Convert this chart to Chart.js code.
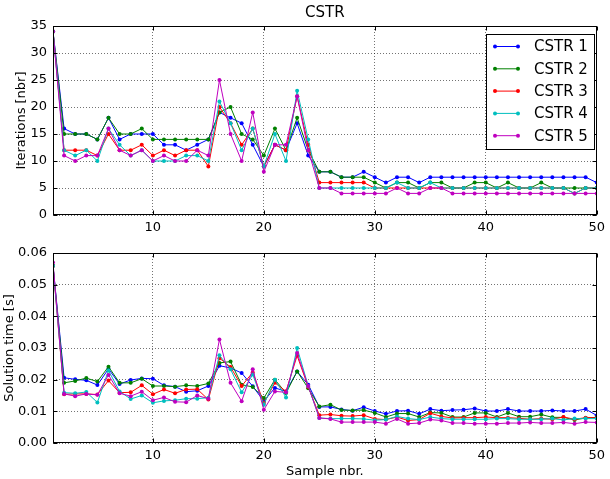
<!DOCTYPE html>
<html>
<head>
<meta charset="utf-8">
<script src="https://cdn.jsdelivr.net/npm/chart.js@4.4.1/dist/chart.umd.min.js"></script>
<style>
  html, body { margin: 0; padding: 0; background: #fff; }
  #wrap { position: relative; width: 610px; height: 479px; }
  canvas { position: absolute; left: 0; }
  #iterChart { top: 0; }
  #timeChart { top: 238px; }
</style>
</head>
<body>
<div id="wrap">
  <canvas id="iterChart" width="610" height="238"></canvas>
  <canvas id="timeChart" width="610" height="241"></canvas>
</div>
<script>
// sample numbers on the x axis
const samples = [1, 2, 3, 4, 5, 6, 7, 8, 9, 10, 11, 12, 13, 14, 15, 16, 17, 18, 19, 20,
  21, 22, 23, 24, 25, 26, 27, 28, 29, 30, 31, 32, 33, 34, 35, 36, 37, 38, 39, 40,
  41, 42, 43, 44, 45, 46, 47, 48, 49, 50];
const seriesNames = ['CSTR 1', 'CSTR 2', 'CSTR 3', 'CSTR 4', 'CSTR 5'];
const xTicks = [10, 20, 30, 40, 50];

// iterations per sample
const iter1 = [34, 16, 15, 15, 14, 18, 14, 15, 15, 15, 13, 13, 12, 13, 14, 19, 18, 17, 13, 9,
  13, 12, 17, 11, 8, 8, 7, 7, 8, 7, 6, 7, 7, 6, 7, 7, 7, 7, 7, 7, 7, 7, 7, 7, 7, 7, 7, 7, 7, 6];
const iter2 = [34, 15, 15, 15, 14, 18, 15, 15, 16, 14, 14, 14, 14, 14, 14, 19, 20, 15, 14, 11,
  16, 12, 18, 12, 8, 8, 7, 7, 7, 6, 5, 6, 6, 5, 6, 6, 5, 5, 6, 6, 5, 6, 5, 5, 6, 5, 5, 5, 5, 5];
const iter3 = [34, 12, 12, 12, 11, 15, 12, 12, 13, 11, 12, 11, 12, 12, 9, 20, 17, 13, 16, 9,
  13, 12, 22, 13, 6, 6, 6, 6, 6, 5, 5, 5, 5, 5, 5, 5, 5, 5, 5, 5, 5, 5, 5, 5, 5, 5, 5, 4, 5, 5];
const iter4 = [34, 12, 11, 12, 10, 16, 13, 11, 12, 10, 10, 10, 11, 11, 10, 21, 17, 12, 16, 9,
  15, 10, 23, 14, 5, 5, 5, 5, 5, 5, 5, 6, 5, 5, 6, 5, 5, 5, 5, 5, 5, 5, 5, 5, 5, 5, 5, 4, 5, 5];
const iter5 = [34, 11, 10, 11, 11, 16, 12, 11, 12, 10, 11, 10, 10, 12, 11, 25, 15, 10, 19, 8,
  13, 13, 22, 12, 5, 5, 4, 4, 4, 4, 4, 5, 4, 4, 5, 5, 4, 4, 4, 4, 4, 4, 4, 4, 4, 4, 4, 4, 4, 4];

// solution time per sample [s]
const time1 = [0.056, 0.0206, 0.0201, 0.0198, 0.0183, 0.0234, 0.0186, 0.0199, 0.0204, 0.0203,
  0.0182, 0.0178, 0.0162, 0.0165, 0.0180, 0.0244, 0.0237, 0.0221, 0.0179, 0.0132,
  0.0174, 0.0163, 0.0226, 0.0184, 0.0114, 0.0114, 0.0106, 0.0102, 0.0113, 0.0101,
  0.0092, 0.0101, 0.0102, 0.0092, 0.0107, 0.0102, 0.0104, 0.0105, 0.0109, 0.0101,
  0.0101, 0.0107, 0.0101, 0.0101, 0.0101, 0.0103, 0.0101, 0.0101, 0.0107, 0.0087];
const time2 = [0.056, 0.0190, 0.0196, 0.0205, 0.0194, 0.0241, 0.0190, 0.0190, 0.0203, 0.0180,
  0.0180, 0.0178, 0.0182, 0.0180, 0.0188, 0.0253, 0.0257, 0.0184, 0.0177, 0.0142,
  0.0200, 0.0158, 0.0226, 0.0173, 0.0115, 0.0121, 0.0104, 0.0103, 0.0104, 0.0095,
  0.0082, 0.0093, 0.0093, 0.0082, 0.0096, 0.0095, 0.0082, 0.0082, 0.0095, 0.0095,
  0.0082, 0.0095, 0.0083, 0.0083, 0.0090, 0.0081, 0.0081, 0.0073, 0.0079, 0.0081];
const time3 = [0.056, 0.0154, 0.0155, 0.0155, 0.0153, 0.0197, 0.0159, 0.0160, 0.0182, 0.0154,
  0.0169, 0.0157, 0.0169, 0.0170, 0.0137, 0.0268, 0.0240, 0.0180, 0.0223, 0.0126,
  0.0190, 0.0163, 0.0276, 0.0177, 0.0088, 0.0090, 0.0086, 0.0085, 0.0088, 0.0076,
  0.0074, 0.0082, 0.0071, 0.0074, 0.0094, 0.0084, 0.0079, 0.0080, 0.0080, 0.0082,
  0.0080, 0.0080, 0.0078, 0.0075, 0.0077, 0.0075, 0.0082, 0.0075, 0.0080, 0.0080];
const time4 = [0.056, 0.0159, 0.0157, 0.0161, 0.0128, 0.0229, 0.0163, 0.0139, 0.0150, 0.0127,
  0.0133, 0.0135, 0.0140, 0.0140, 0.0143, 0.0277, 0.0233, 0.0160, 0.0216, 0.0121,
  0.0200, 0.0144, 0.0300, 0.0180, 0.0079, 0.0077, 0.0077, 0.0077, 0.0076, 0.0072,
  0.0074, 0.0084, 0.0077, 0.0074, 0.0082, 0.0077, 0.0075, 0.0075, 0.0075, 0.0075,
  0.0077, 0.0077, 0.0075, 0.0075, 0.0075, 0.0077, 0.0073, 0.0077, 0.0077, 0.0077];
const time5 = [0.057, 0.0155, 0.0148, 0.0155, 0.0152, 0.0215, 0.0157, 0.0148, 0.0162, 0.0135,
  0.0144, 0.0130, 0.0129, 0.0150, 0.0140, 0.0327, 0.0190, 0.0132, 0.0233, 0.0105,
  0.0163, 0.0160, 0.0284, 0.0180, 0.0079, 0.0076, 0.0066, 0.0066, 0.0066, 0.0066,
  0.0061, 0.0076, 0.0061, 0.0063, 0.0074, 0.0071, 0.0063, 0.0063, 0.0061, 0.0061,
  0.0061, 0.0063, 0.0063, 0.0065, 0.0063, 0.0063, 0.0065, 0.0061, 0.0066, 0.0065];

const colors = ['#0000ff', '#008000', '#ff0000', '#00bfbf', '#bf00bf'];

Chart.defaults.font.family = "'DejaVu Sans', sans-serif";
Chart.defaults.font.size = 13;
Chart.defaults.color = '#000';

function makeDatasets(series) {
  return series.map((d, i) => ({
    label: seriesNames[i],
    data: d,
    borderColor: colors[i],
    backgroundColor: colors[i],
    borderWidth: 1,
    pointRadius: 2,
    pointBorderWidth: 0,
    pointHoverRadius: 2,
    tension: 0,
    order: series.length - i
  }));
}

// box round the plot and inward tick marks, like matplotlib
const framePlugin = {
  id: 'frame',
  afterDraw(chart) {
    const { ctx, chartArea: a, scales } = chart;
    const l = Math.round(a.left) + 0.5, r = Math.round(a.right) - 0.5;
    const t = Math.round(a.top) + 0.5, b = Math.round(a.bottom) - 0.5;
    ctx.save();
    ctx.strokeStyle = '#000';
    ctx.lineWidth = 1;
    ctx.beginPath();
    scales.x.ticks.forEach(tk => {
      const px = Math.round(scales.x.getPixelForValue(tk.value)) + 0.5;
      ctx.moveTo(px, b); ctx.lineTo(px, b - 4);
      ctx.moveTo(px, t); ctx.lineTo(px, t + 4);
    });
    scales.y.ticks.forEach(tk => {
      const py = Math.round(scales.y.getPixelForValue(tk.value)) + 0.5;
      ctx.moveTo(l, py); ctx.lineTo(l + 4, py);
      ctx.moveTo(r, py); ctx.lineTo(r - 4, py);
    });
    ctx.stroke();
    ctx.strokeRect(l, t, r - l, b - t);
    ctx.restore();
  }
};

// title and legend box for the upper plot
const legendPlugin = {
  id: 'boxLegend',
  afterDraw(chart) {
    const { ctx, chartArea: a } = chart;
    ctx.save();
    ctx.fillStyle = '#000';
    ctx.font = "15px 'DejaVu Sans'";
    ctx.textAlign = 'center';
    ctx.textBaseline = 'middle';
    ctx.fillText('CSTR', (a.left + a.right) / 2, 13);

    const bx = 486.5, by = 34.5, bw = 108, bh = 115;
    ctx.fillStyle = '#fff';
    ctx.fillRect(bx, by, bw, bh);
    ctx.strokeStyle = '#000';
    ctx.lineWidth = 1;
    ctx.strokeRect(bx, by, bw, bh);
    ctx.textAlign = 'left';
    chart.data.datasets.forEach((ds, i) => {
      const y = 46.5 + i * 22.3;
      ctx.strokeStyle = ds.borderColor;
      ctx.fillStyle = ds.borderColor;
      ctx.beginPath();
      ctx.moveTo(495, y); ctx.lineTo(518, y);
      ctx.stroke();
      [495, 518].forEach(px => {
        ctx.beginPath();
        ctx.arc(px, y, 2, 0, Math.PI * 2);
        ctx.fill();
      });
      ctx.fillStyle = '#000';
      ctx.fillText(ds.label, 534, y + 1);
    });
    ctx.restore();
  }
};

function makeOptions(cfg) {
  return {
    responsive: false,
    animation: false,
    layout: { padding: { top: cfg.padTop, right: 8, left: 0, bottom: 0 } },
    plugins: { legend: { display: false }, tooltip: { enabled: false }, title: { display: false } },
    scales: {
      x: {
        type: 'linear', min: 1, max: 50,
        afterBuildTicks: s => { s.ticks = xTicks.map(v => ({ value: v })); },
        afterFit: s => { s.height = cfg.xHeight; },
        ticks: { padding: 5, maxRotation: 0, callback: v => String(v) },
        grid: { color: 'rgba(0,0,0,0.55)', lineWidth: 1, drawTicks: false },
        border: { display: false, dash: [1, 2] },
        title: cfg.xTitle ? { display: true, text: cfg.xTitle, font: { size: 13 }, padding: { top: 0, bottom: 0 } } : { display: false }
      },
      y: {
        min: 0, max: cfg.yMax,
        afterFit: s => { s.width = 53; },
        afterBuildTicks: s => { s.ticks = cfg.yTicks.map(v => ({ value: v })); },
        ticks: { padding: 6, callback: cfg.yFormat },
        grid: { color: 'rgba(0,0,0,0.55)', lineWidth: 1, drawTicks: false },
        border: { display: false, dash: [1, 2] },
        title: { display: true, text: cfg.yTitle, font: { size: 13 }, padding: { top: cfg.yTitlePad, bottom: 0 } }
      }
    }
  };
}

const iterTicks = [0, 5, 10, 15, 20, 25, 30, 35];
const timeTicks = [0, 0.01, 0.02, 0.03, 0.04, 0.05, 0.06];

new Chart(document.getElementById('iterChart'), {
  type: 'line',
  data: { labels: samples, datasets: makeDatasets([iter1, iter2, iter3, iter4, iter5]) },
  options: makeOptions({
    padTop: 26, xHeight: 23, yMax: 35, yTicks: iterTicks, yTitle: 'Iterations [nbr]',
    yTitlePad: 14, yFormat: v => String(v)
  }),
  plugins: [framePlugin, legendPlugin]
});

new Chart(document.getElementById('timeChart'), {
  type: 'line',
  data: { labels: samples, datasets: makeDatasets([time1, time2, time3, time4, time5]) },
  options: makeOptions({
    padTop: 15, xHeight: 36, yMax: 0.06, yTicks: timeTicks, yTitle: 'Solution time [s]',
    yTitlePad: 2, yFormat: v => Number(v).toFixed(2), xTitle: 'Sample nbr.'
  }),
  plugins: [framePlugin]
});
</script>
</body>
</html>
